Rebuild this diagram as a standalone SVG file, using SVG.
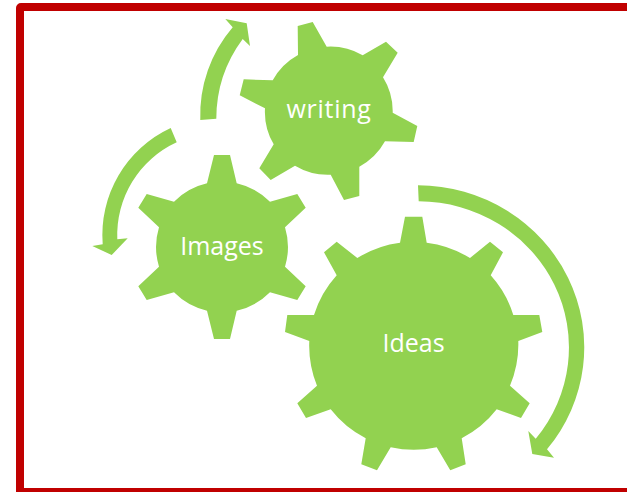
<svg xmlns="http://www.w3.org/2000/svg" width="627" height="492" viewBox="0 0 627 492">
<style>
.g{fill:#92D250}
.t{fill:#fff;font-family:"Open Sans","Liberation Sans",sans-serif;font-size:25px;text-anchor:middle}
</style>
<rect width="627" height="492" fill="#fff"/>
<rect x="20" y="7" width="640" height="485" rx="1" fill="none" stroke="#C00000" stroke-width="8"/>
<g id="connectors">
<path class="g" d="M418,185.3A167,162 0 0 1 547,449.3L554,457.7L532.3,454L528.3,431L535.7,438.7A151,146 0 0 0 418.7,201.3Z"/>
<path class="g" d="M200.3,120A135,135 0 0 1 232.7,27.3L225.3,19L246.7,23.3L250,46L242.7,39A134,134 0 0 0 216.3,118.7Z"/>
<path class="g" d="M170.7,128A118,118 0 0 0 102.7,244.3L92.3,246L111.7,255L127.7,238.3L117.3,239.3A102,102 0 0 1 176.7,142.3Z"/>
</g>
<g id="node-writing">
<path class="g" d="M298,55L297.7,26L312.7,22L326.7,46.7A64,64 0 0 1 362.7,55.3L386,41.7L397.7,52.7L383,77.3A64,64 0 0 1 392.7,112.7L417.3,126L413.7,142L385,141.3A64,64 0 0 1 359.3,166.7L359.3,196L344,200L330.7,174.7A64,64 0 0 1 295,165.7L270.7,180L259.3,168.3L273.7,144.3A64,64 0 0 1 265,108.3L239.7,95.3L243.7,79.3L272.7,80.3A64,64 0 0 1 298,55Z"/>
<text class="t" x="329" y="118" letter-spacing="0.7">writing</text>
</g>
<g id="node-images">
<path class="g" d="M207,183.3L214,155L230,155L236.7,183.3A68,68 0 0 1 270,201.7L297.3,194L305.700,207.700L285,227.3A68,68 0 0 1 285,266.7L305.700,286.300L297.3,300L270,292.3A68,68 0 0 1 236.7,310.7L230,339L214,339L207,310.7A68,68 0 0 1 174,292.3L146.7,300L138.3,286.3L159,266.7A68,68 0 0 1 159,227.3L138.3,207.7L146.7,194L174,201.7A68,68 0 0 1 207,183.3Z"/>
<text class="t" x="222" y="255">Images</text>
</g>
<g id="node-ideas">
<path class="g" d="M400,242.7L405,216.7L422.3,216.7L426.7,242.7A106,106 0 0 1 470,258L490,241.7L503,252.3L490.7,275.3A106,106 0 0 1 513.3,315L539.3,315L542.3,332L518.3,341A106,106 0 0 1 510,385.7L529.7,403.3L521,418L496.7,409.3A106,106 0 0 1 461.7,438.3L465.7,464.3L450.3,470.3L436.7,447.3A106,106 0 0 1 390.7,447.3L377,470.3L361.3,464.3L365.7,438.3A106,106 0 0 1 330.7,409.3L306,418L297.3,403.3L317,385.7A106,106 0 0 1 309.3,341L285,332L287.3,315L314,315A106,106 0 0 1 336.7,275.3L324,252.3L336.7,241.7L357.3,258A106,106 0 0 1 400,242.7Z"/>
<text class="t" x="413.500" y="352">Ideas</text>
</g>
</svg>
